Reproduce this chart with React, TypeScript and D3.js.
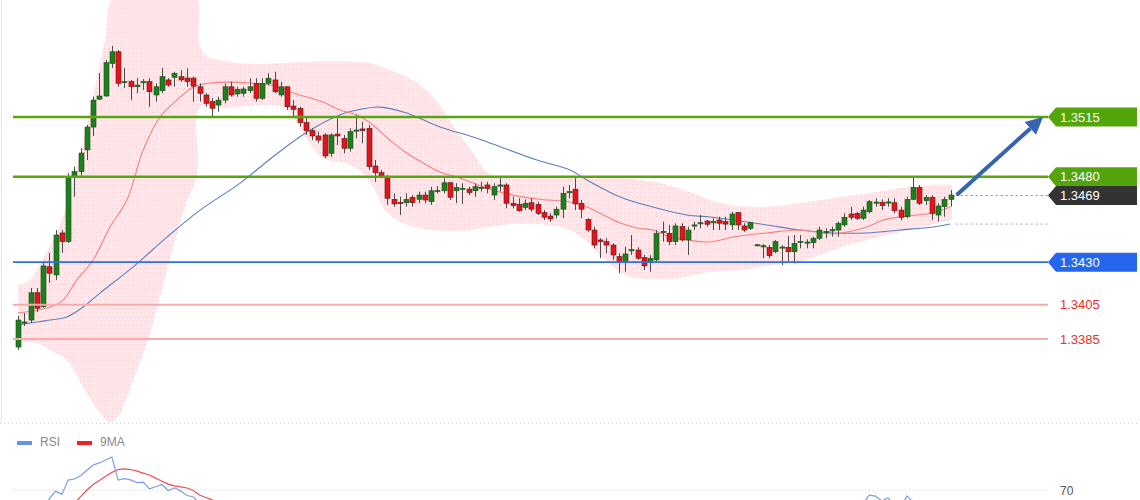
import React from 'react';
import * as d3 from 'd3';

// ---------- candle data (index 0..149) ----------
const opens = [1.33803,1.33944,1.33961,1.34121,1.34039,1.34273,1.34225,1.34471,1.34420,1.34800,
1.34830,1.34957,1.35091,1.35254,1.35273,1.35464,1.35532,1.35355,1.35357,1.35327,
1.35350,1.35357,1.35279,1.35304,1.35367,1.35382,1.35386,1.35378,1.35378,1.35327,
1.35279,1.35240,1.35220,1.35249,1.35327,1.35285,1.35289,1.35304,1.35347,1.35259,
1.35347,1.35367,1.35279,1.35327,1.35214,1.35201,1.35117,1.35070,1.35039,1.35045,
1.34937,1.35050,1.35025,1.34967,1.35071,1.35080,1.35084,1.34863,1.34824,1.34800,
1.34668,1.34650,1.34648,1.34680,1.34668,1.34693,1.34654,1.34716,1.34718,1.34765,
1.34718,1.34730,1.34728,1.34718,1.34736,1.34752,1.34693,1.34748,1.34752,1.34645,
1.34639,1.34621,1.34648,1.34639,1.34590,1.34570,1.34576,1.34610,1.34710,1.34727,
1.34645,1.34551,1.34488,1.34430,1.34420,1.34400,1.34332,1.34303,1.34369,1.34371,
1.34328,1.34303,1.34313,1.34476,1.34469,1.34420,1.34508,1.34430,1.34515,1.34528,
1.34541,1.34535,1.34547,1.34537,1.34518,1.34590,1.34512,1.34498,1.34398,1.34392,
1.34387,1.34361,1.34385,1.34387,1.34361,1.34418,1.34414,1.34414,1.34440,1.34476,
1.34486,1.34488,1.34518,1.34582,1.34586,1.34557,1.34595,1.34648,1.34651,1.34649,
1.34648,1.34605,1.34566,1.34668,1.34738,1.34660,1.34680,1.34576,1.34625,1.34668];
const highs = [1.33985,1.34002,1.34149,1.34149,1.34301,1.34354,1.34488,1.34488,1.34822,1.34859,
1.34968,1.35103,1.35269,1.35408,1.35484,1.35566,1.35542,1.35437,1.35367,1.35378,
1.35372,1.35378,1.35347,1.35437,1.35378,1.35415,1.35425,1.35435,1.35386,1.35347,
1.35289,1.35261,1.35269,1.35347,1.35357,1.35327,1.35327,1.35377,1.35377,1.35377,
1.35406,1.35415,1.35357,1.35330,1.35249,1.35210,1.35152,1.35084,1.35064,1.35054,
1.35054,1.35142,1.35045,1.35084,1.35162,1.35122,1.35103,1.34898,1.34840,1.34810,
1.34703,1.34683,1.34703,1.34693,1.34713,1.34713,1.34742,1.34745,1.34791,1.34771,
1.34762,1.34762,1.34742,1.34762,1.34771,1.34771,1.34762,1.34791,1.34762,1.34683,
1.34674,1.34668,1.34674,1.34654,1.34605,1.34586,1.34625,1.34742,1.34752,1.34791,
1.34664,1.34557,1.34508,1.34440,1.34440,1.34410,1.34352,1.34391,1.34459,1.34387,
1.34342,1.34342,1.34488,1.34537,1.34518,1.34528,1.34528,1.34508,1.34537,1.34576,
1.34547,1.34557,1.34566,1.34566,1.34595,1.34595,1.34528,1.34537,1.34406,1.34406,
1.34400,1.34430,1.34400,1.34453,1.34459,1.34459,1.34434,1.34449,1.34508,1.34498,
1.34508,1.34537,1.34586,1.34625,1.34595,1.34625,1.34664,1.34674,1.34668,1.34674,
1.34674,1.34625,1.34683,1.34800,1.34752,1.34693,1.34693,1.34645,1.34683,1.34722];
const lows = [1.33786,1.33926,1.33944,1.34008,1.34032,1.34178,1.34196,1.34354,1.34412,1.34683,
1.34800,1.34898,1.35039,1.35249,1.35269,1.35437,1.35327,1.35320,1.35249,1.35290,
1.35308,1.35210,1.35240,1.35289,1.35327,1.35327,1.35357,1.35327,1.35240,1.35240,
1.35210,1.35156,1.35181,1.35230,1.35269,1.35269,1.35269,1.35289,1.35240,1.35249,
1.35337,1.35289,1.35269,1.35191,1.35152,1.35093,1.35045,1.35015,1.34996,1.34908,
1.34917,1.34986,1.34937,1.34947,1.35025,1.34996,1.34840,1.34771,1.34791,1.34635,
1.34625,1.34576,1.34625,1.34625,1.34645,1.34645,1.34635,1.34703,1.34703,1.34664,
1.34645,1.34641,1.34693,1.34683,1.34713,1.34703,1.34664,1.34713,1.34615,1.34615,
1.34595,1.34605,1.34595,1.34576,1.34547,1.34537,1.34557,1.34557,1.34674,1.34605,
1.34557,1.34478,1.34381,1.34323,1.34352,1.34313,1.34235,1.34244,1.34342,1.34313,
1.34254,1.34244,1.34303,1.34420,1.34400,1.34400,1.34420,1.34342,1.34488,1.34498,
1.34508,1.34488,1.34488,1.34488,1.34488,1.34488,1.34478,1.34488,1.34394,1.34323,
1.34323,1.34352,1.34283,1.34303,1.34293,1.34381,1.34381,1.34381,1.34430,1.34440,
1.34449,1.34449,1.34508,1.34547,1.34547,1.34547,1.34586,1.34625,1.34605,1.34625,
1.34586,1.34547,1.34557,1.34664,1.34635,1.34635,1.34547,1.34537,1.34566,1.34625];
const closes = [1.33961,1.33950,1.34121,1.34030,1.34278,1.34235,1.34459,1.34420,1.34800,1.34830,
1.34939,1.35091,1.35249,1.35273,1.35468,1.35532,1.35347,1.35358,1.35327,1.35337,
1.35357,1.35298,1.35327,1.35386,1.35337,1.35406,1.35367,1.35357,1.35331,1.35289,
1.35230,1.35201,1.35249,1.35327,1.35279,1.35312,1.35314,1.35327,1.35259,1.35347,
1.35377,1.35298,1.35327,1.35210,1.35195,1.35117,1.35070,1.35039,1.35015,1.34922,
1.35045,1.35039,1.34967,1.35064,1.35074,1.35070,1.34859,1.34824,1.34804,1.34674,
1.34641,1.34648,1.34668,1.34648,1.34693,1.34664,1.34718,1.34720,1.34765,1.34680,
1.34738,1.34733,1.34707,1.34742,1.34738,1.34732,1.34742,1.34752,1.34645,1.34631,
1.34601,1.34645,1.34610,1.34586,1.34563,1.34553,1.34610,1.34703,1.34713,1.34641,
1.34610,1.34488,1.34400,1.34420,1.34400,1.34342,1.34303,1.34348,1.34373,1.34323,
1.34278,1.34323,1.34469,1.34480,1.34420,1.34512,1.34430,1.34488,1.34518,1.34531,
1.34522,1.34537,1.34528,1.34523,1.34582,1.34518,1.34488,1.34531,1.34402,1.34396,
1.34338,1.34420,1.34389,1.34361,1.34410,1.34422,1.34418,1.34440,1.34488,1.34480,
1.34490,1.34528,1.34563,1.34563,1.34557,1.34605,1.34654,1.34652,1.34631,1.34653,
1.34601,1.34563,1.34668,1.34738,1.34645,1.34680,1.34586,1.34629,1.34668,1.34693];

// ---------- Bollinger band edges (candle index, price) ----------
const bandUpperIdx = [0,1.9,4.3,6.7,9.1,11.5,13.9,15.5,28.3,28.9,29.9,33.9,38.7,45,51.4,56.2,59.4,63.1,66.3,69.5,72.7,74.9,77,83.4,89.8,96.2,102.6,107.3,112.1,118.5,124.9,131.3,136.1,140.9,145.7,149.2];
const bandUpperVal = [1.34166,1.34196,1.34342,1.34518,1.34810,1.35191,1.35601,1.35864,1.35864,1.35601,1.35513,1.35472,1.35460,1.35472,1.35478,1.35466,1.35425,1.35367,1.35267,1.35103,1.34939,1.34828,1.34799,1.34793,1.34799,1.34793,1.34763,1.34711,1.34646,1.34623,1.34646,1.34682,1.34705,1.34734,1.34752,1.34752];
const bandLowerIdx = [0,3,5.1,7.8,10.4,13.1,14.7,16.3,18.4,20.6,22.7,24.8,26.8,28.6,29.1,33.4,38.7,42.7,46.2,48.7,52.2,55.1,57,58.6,61,64.7,70.6,79.1,88.2,93.5,97,101,105.8,109.4,115.3,121.7,124.9,130.2,135.6,140.9,149.2];
const bandLowerVal = [1.33827,1.33827,1.33786,1.33727,1.33569,1.33417,1.33364,1.33417,1.33610,1.33827,1.34096,1.34389,1.34635,1.34810,1.35208,1.35202,1.35220,1.35202,1.35015,1.34910,1.34881,1.34822,1.34723,1.34605,1.34535,1.34494,1.34482,1.34523,1.34488,1.34324,1.34225,1.34201,1.34207,1.34237,1.34254,1.34289,1.34301,1.34371,1.34430,1.34477,1.34547];

// ---------- moving averages ----------
const maRedIdx = [0,5.1,7.2,9.4,12,14.7,17.4,20,22.7,25.4,28,30.7,37.1,42.3,43.5,48.7,51.4,54.2,56.7,59.4,62.1,64.7,67.4,70.1,72.7,77.5,82.9,88.2,90.9,93.5,96.2,98.9,101.4,104.2,106.9,110.5,114.2,119.6,124.9,130.2,135.6,138.2,140.9,143.6,146.2,148.9];
const maRedVal = [1.34002,1.34037,1.34078,1.34196,1.34313,1.34506,1.34664,1.34957,1.35150,1.35249,1.35326,1.35349,1.35349,1.35320,1.35296,1.35238,1.35191,1.35162,1.35103,1.35015,1.34939,1.34881,1.34828,1.34799,1.34763,1.34705,1.34670,1.34652,1.34623,1.34576,1.34529,1.34500,1.34488,1.34447,1.34430,1.34418,1.34447,1.34471,1.34488,1.34465,1.34506,1.34547,1.34564,1.34576,1.34588,1.34623];
const maBlueIdx = [0,5.1,7.8,10.4,13.1,18.4,23.8,29.1,35.5,40.7,46.2,51.4,54.2,57.8,62.1,67.4,72.7,82.9,88.2,90.9,96.2,101.4,106.9,110.5,114.2,119.6,124.9,130.2,135.6,140.9,146.2,148.9];
const maBlueVal = [1.33932,1.33961,1.33979,1.34037,1.34119,1.34272,1.34447,1.34605,1.34763,1.34916,1.35062,1.35162,1.35191,1.35208,1.35173,1.35091,1.35033,1.34898,1.34840,1.34781,1.34682,1.34623,1.34576,1.34564,1.34547,1.34518,1.34488,1.34471,1.34471,1.34488,1.34506,1.34523];

// ---------- levels ----------
const resistance = [1.3515, 1.3480];
const support = [1.3430];
const weakLevels = [1.3405, 1.3385];
const lastPrice = 1.3469;
const targetPrice = 1.3515;

// ---------- RSI panel ----------
const rsiSeg1Idx = [4,5,6,7,8,9,10,11,12,13,14,15,16,17,18,19,20,21,22,23,24,25,26,27,28,29,30,31];
const rsiSeg1Val = [61,66,69.5,68,74.5,75,76.5,79,81.4,82.3,83.6,85,74.5,75.2,74.6,73.4,73.6,70.5,71.5,72.5,69.8,71,69.5,67.5,66.8,64,62,60];
const rsiSeg2Idx = [134,135,136,137,138,139,140,141,142,143,144];
const rsiSeg2Val = [62,64,67.7,67.2,65,66.5,63,62,67.3,64.5,62];
const rsiMaIdx = [8,9,10,11,12,13,14,15,16,17,18,19,20,21,22,23,24,25,26,27,28,29,30,31,32];
const rsiMaVal = [62,64,67,70,72.5,74.3,76.3,78,79.3,79.6,79.3,78.6,77.7,76.8,75.4,74,72.7,71.9,71.4,70.9,69.8,67.7,66.6,65.5,64];
const rsiLevel = 70;

const FONT = '"Liberation Sans", Arial, Helvetica, sans-serif';

export default function App() {
  const W = 1140, H = 500;
  const x = d3.scaleLinear().domain([0, 149]).range([18, 950.7]);
  const y = d3.scaleLinear().domain([1.3385, 1.3515]).range([339, 117]);
  const yr = d3.scaleLinear().domain([70, 100]).range([490, 424]);

  const lineLeft = 13, lineRight = 1048, boxRight = 1137;

  const curve = d3.curveCatmullRom.alpha(0.5);
  const pl = d3.line<[number, number]>().x(d => x(d[0])).y(d => y(d[1])).curve(curve);
  const zip = (a: number[], b: number[]) => a.map((v, i) => [v, b[i]] as [number, number]);

  const upperPath = pl(zip(bandUpperIdx, bandUpperVal)) as string;
  const lowerPath = (pl(zip(bandLowerIdx, bandLowerVal).reverse()) as string).replace(/^M/, 'L');
  const bandPath = upperPath + lowerPath + 'Z';

  const rl = d3.line<[number, number]>().x(d => x(d[0])).y(d => yr(d[1]));

  const labelBox = (yc: number, fill: string, text: string, key: string) => {
    const h = 9.5;
    const pts = [[lineRight, yc], [lineRight + 8, yc - h], [boxRight, yc - h], [boxRight, yc + h], [lineRight + 8, yc + h]];
    return (
      <g key={key}>
        <polygon points={pts.map(p => p.join(',')).join(' ')} fill={fill} />
        <text x={1060} y={yc + 4.6} fill="#fff" fontSize={13} fontFamily={FONT}>{text}</text>
      </g>
    );
  };

  // arrow
  const ax0 = x(149) + 6, ay0 = y(closes[149]);
  const ax1 = 1043, ay1 = y(targetPrice);
  const dx = ax1 - ax0, dy = ay1 - ay0, len = Math.hypot(dx, dy);
  const ux = dx / len, uy = dy / len, nx = -uy, ny = ux;
  const hl = 17, hw = 8.5;
  const bx = ax1 - ux * hl, by = ay1 - uy * hl;

  const lastMaBlue = maBlueVal[maBlueVal.length - 1];

  return (
    <svg width={W} height={H} style={{ position: 'fixed', left: 0, top: 0, background: '#fff' }}>
      <defs>
        <pattern id="bandDots" width="4" height="4" patternUnits="userSpaceOnUse">
          <rect width="4" height="4" fill="#fee7ea" />
          <rect x="0" y="0" width="1" height="1" fill="#f8ced3" />
        </pattern>
        <clipPath id="mainClip"><rect x={0} y={0} width={W} height={423} /></clipPath>
        <clipPath id="rsiClip"><rect x={0} y={424} width={W} height={76} /></clipPath>
      </defs>
      <rect x={0} y={0} width={W} height={H} fill="#fff" />
      <line x1={1.5} x2={1.5} y1={0} y2={423} stroke="#e4e4e4" />

      <g clipPath="url(#mainClip)">
        <path d={bandPath} fill="url(#bandDots)" />
        <path d={pl(zip(maBlueIdx, maBlueVal)) as string} fill="none" stroke="#5c7fbf" strokeWidth={1.1} />
        <path d={pl(zip(maRedIdx, maRedVal)) as string} fill="none" stroke="#f58080" strokeWidth={1.1} />

        {/* candles */}
        {closes.map((c, i) => {
          const o = opens[i];
          const up = c >= o;
          const top = y(Math.max(o, c)), bot = y(Math.min(o, c));
          const cx = Math.round(x(i)) + 0.5;
          return (
            <g key={i}>
              <line x1={cx} x2={cx} y1={y(highs[i])} y2={y(lows[i])} stroke="#4a4a4a" strokeWidth={1} />
              <rect x={cx - 2.5} y={top} width={5} height={Math.max(1.2, bot - top)}
                fill={up ? '#1f7f1f' : '#e3141b'} stroke={up ? '#1a4d1a' : '#5a1a1a'} strokeWidth={0.6} />
            </g>
          );
        })}

        {/* level lines */}
        {weakLevels.map(v => (
          <line key={'w' + v} x1={lineLeft} x2={lineRight} y1={y(v)} y2={y(v)} stroke="#f9aaaa" strokeWidth={2} />
        ))}
        {support.map(v => (
          <line key={'s' + v} x1={lineLeft} x2={lineRight} y1={y(v)} y2={y(v)} stroke="#2f6df0" strokeWidth={1.6} />
        ))}
        {resistance.map(v => (
          <line key={'r' + v} x1={lineLeft} x2={lineRight} y1={y(v)} y2={y(v)} stroke="#58a60f" strokeWidth={2.6} />
        ))}
        <line x1={x(149) + 5} x2={lineRight} y1={y(lastPrice)} y2={y(lastPrice)} stroke="#888" strokeWidth={1} strokeDasharray="2,3" />
        <line x1={x(149) + 5} x2={lineRight} y1={y(lastMaBlue)} y2={y(lastMaBlue)} stroke="#8ea3d6" strokeWidth={1} strokeDasharray="2,3" />

        {/* arrow */}
        <line x1={ax0} y1={ay0} x2={bx} y2={by} stroke="#3566ad" strokeWidth={4} />
        <polygon points={`${ax1},${ay1} ${bx + nx * hw},${by + ny * hw} ${bx - nx * hw},${by - ny * hw}`} fill="#3566ad" />
      </g>

      {/* labels */}
      {resistance.map(v => labelBox(y(v), '#54a40b', v.toFixed(4), 'lb' + v))}
      {labelBox(y(lastPrice), '#333333', lastPrice.toFixed(4), 'lblast')}
      {support.map(v => labelBox(y(v), '#2467ee', v.toFixed(4), 'ls' + v))}
      {weakLevels.map(v => (
        <text key={'lw' + v} x={1060} y={y(v) + 4.6} fill="#f02b2b" fontSize={13} fontFamily={FONT}>{v.toFixed(4)}</text>
      ))}

      {/* RSI panel */}
      <line x1={0} x2={1138} y1={423.5} y2={423.5} stroke="#cfcfcf" strokeDasharray="1,3" />
      <line x1={lineLeft} x2={1046} y1={yr(rsiLevel)} y2={yr(rsiLevel)} stroke="#c8c8c8" strokeDasharray="1,3" />
      <text x={1060} y={yr(rsiLevel) + 4.5} fill="#555" fontSize={12} fontFamily={FONT}>{rsiLevel}</text>
      <rect x={17} y={441} width={15} height={4} fill="#6a8ef0" />
      <text x={40} y={446} fill="#888" fontSize={12} fontFamily={FONT}>RSI</text>
      <rect x={77} y={441} width={15} height={4} fill="#ee2222" />
      <text x={100} y={446} fill="#888" fontSize={12} fontFamily={FONT}>9MA</text>
      <g clipPath="url(#rsiClip)">
        <path d={rl(zip(rsiMaIdx, rsiMaVal)) as string} fill="none" stroke="#f25050" strokeWidth={1.2} />
        <path d={rl(zip(rsiSeg1Idx, rsiSeg1Val)) as string} fill="none" stroke="#7d9cf0" strokeWidth={1.2} />
        <path d={rl(zip(rsiSeg2Idx, rsiSeg2Val)) as string} fill="none" stroke="#7d9cf0" strokeWidth={1.2} />
      </g>
    </svg>
  );
}
